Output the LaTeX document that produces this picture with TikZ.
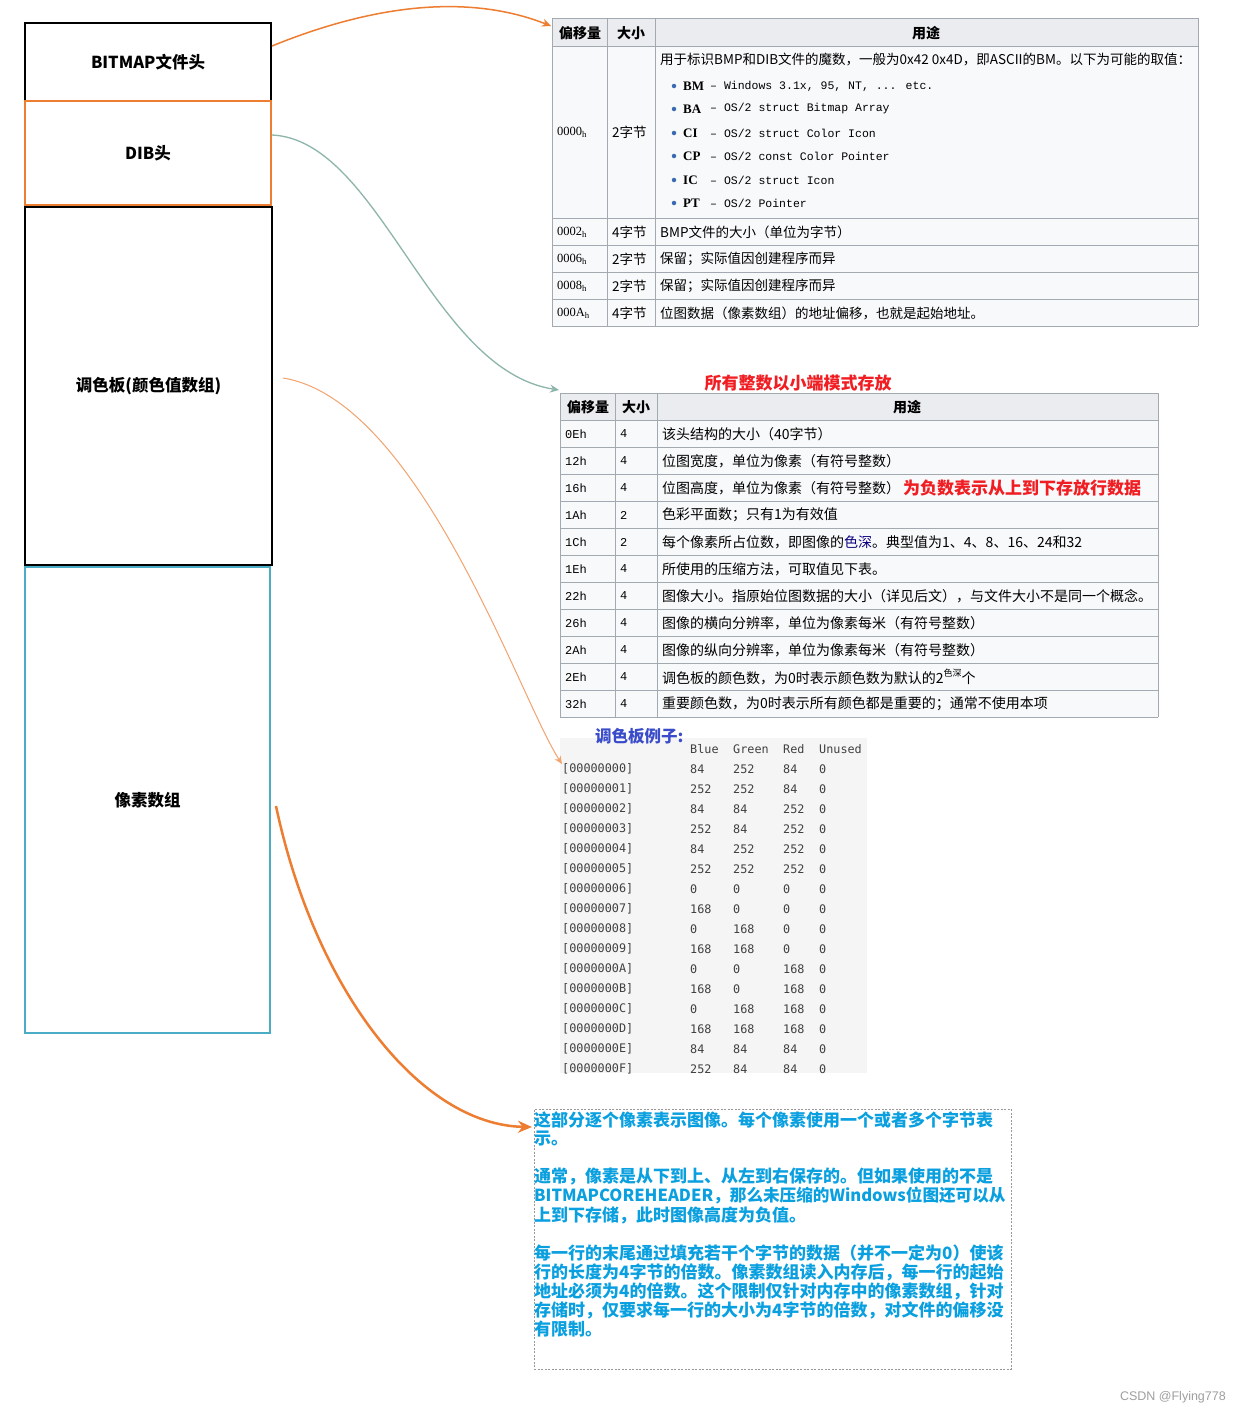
\documentclass[tikz,border=0pt]{standalone}
\usepackage{fontspec}
\setmainfont{Noto Sans CJK SC}
\newfontfamily\lmono{Liberation Mono}
\newfontfamily\lserif{Liberation Serif}
\newfontfamily\dmono{DejaVu Sans Mono}
\newfontfamily\lsans{Liberation Sans}
\usetikzlibrary{arrows.meta}
\definecolor{hdrbg}{HTML}{EAECF0}
\definecolor{cellbg}{HTML}{F8F9FA}
\definecolor{gridc}{HTML}{A2A9B1}
\definecolor{orng}{HTML}{ED7D31}
\definecolor{lorng}{HTML}{F2A36E}
\definecolor{arrteal}{HTML}{8DB5AA}
\definecolor{pixblue}{HTML}{4BACC6}
\definecolor{redtxt}{HTML}{F01E23}
\definecolor{exblue}{HTML}{3A4CC9}
\definecolor{txtblue}{HTML}{0AA0E0}
\definecolor{monogray}{HTML}{404040}
\definecolor{palbg}{HTML}{F5F5F5}
\definecolor{linkblue}{HTML}{0B0080}
\definecolor{bulblue}{HTML}{3A6BB0}
\newcommand\tabfont{\fontsize{13.5}{16}\selectfont}
\newcommand\tabfontb{\fontsize{14}{16}\selectfont}
\newcommand\hdrfont{\fontsize{14}{16}\selectfont\bfseries}
\newcommand\boxfont{\fontsize{16.5}{19}\selectfont\bfseries}
\newcommand\palfont{\dmono\fontsize{11.8}{13}\selectfont}
\newcommand\notefont{\fontsize{17}{19}\selectfont\bfseries}
\newcommand\offfont{\lserif\fontsize{12.5}{14}\selectfont}
\newcommand\omono{\lmono\fontsize{12}{14}\selectfont}
\newcommand\bulmono{\lmono\fontsize{11.5}{14}\selectfont}
\newcommand\bulkey{\lserif\bfseries\fontsize{13}{15}\selectfont}
\begin{document}
\begin{tikzpicture}[x=1pt,y=-1pt,
  lbox/.style={inner sep=0pt, font=\boxfont},
  txt/.style={anchor=west, inner sep=0pt, font=\tabfont},
  txtb/.style={anchor=west, inner sep=0pt, font=\tabfontb},
  hdr/.style={inner sep=0pt, font=\hdrfont},
  gridline/.style={draw=gridc, line width=0.8pt},
  mono/.style={anchor=west, inner sep=0pt, font=\palfont, text=monogray},
  bt/.style={anchor=west, inner sep=0pt, font=\notefont, text=txtblue},
  bul/.style={circle, inner sep=0pt, minimum size=4.5pt, fill=bulblue},
  bkey/.style={anchor=west, inner sep=0pt, font=\bulkey},
  bval/.style={anchor=west, inner sep=0pt, font=\bulmono},
  off/.style={anchor=west, inner sep=0pt, font=\offfont},
  offm/.style={anchor=west, inner sep=0pt, font=\omono},
]
\useasboundingbox (0,0) rectangle (1241,1414);
\fill[white] (0,0) rectangle (1241,1414);

% ---------- left boxes ----------
\node[lbox, draw=black, line width=1.5pt, minimum width=246pt, minimum height=78pt] (bfh) at (148,62) {BITMAP文件头};
\node[lbox, draw=orng, line width=1.5pt, minimum width=246pt, minimum height=104pt] (dib) at (148,153) {DIB头};
\node[lbox, draw=black, line width=2pt, minimum width=247pt, minimum height=358pt] (pal) at (148.5,386) {调色板(颜色值数组)};
\node[lbox, draw=pixblue, line width=1.5pt, minimum width=245pt, minimum height=466pt] (pix) at (147.5,800) {像素数组};

% ---------- table 1 ----------
\node[fill=cellbg, anchor=north west, minimum width=646pt, minimum height=308pt, inner sep=0pt] (t1) at (552,18) {};
\fill[hdrbg] (552,18) rectangle (1198,46);
\foreach \y in {18,46,218,245,272,299,326} \draw[gridline] (552,\y) -- (1198,\y);
\foreach \x in {552,607,655,1198} \draw[gridline] (\x,18) -- (\x,326);
\node[hdr] (t1h1) at (580,33) {偏移量};
\node[hdr] (t1h2) at (631,33) {大小};
\node[hdr] (t1h3) at (926,33) {用途};

\node[off] (t1o1) at (557,132) {0000\textsubscript{h}};
\node[txt] (t1s1) at (612,132) {2字节};
\node[txt] (t1d1) at (660,60) {用于标识BMP和DIB文件的魔数，一般为0x42 0x4D，即ASCII的BM。以下为可能的取值：};
\node[bul] (bu1) at (674,86) {};  \node[bkey] (bk1) at (683,86) {BM}; \node[bval] (bv1) at (710,86) {–\ Windows 3.1x, 95, NT, ... etc.};
\node[bul] (bu2) at (674,109) {}; \node[bkey] (bk2) at (683,109) {BA}; \node[bval] (bv2) at (710,109) {–\ OS/2 struct Bitmap Array};
\node[bul] (bu3) at (674,133) {}; \node[bkey] (bk3) at (683,133) {CI}; \node[bval] (bv3) at (710,133) {–\ OS/2 struct Color Icon};
\node[bul] (bu4) at (674,156) {}; \node[bkey] (bk4) at (683,156) {CP}; \node[bval] (bv4) at (710,156) {–\ OS/2 const Color Pointer};
\node[bul] (bu5) at (674,180) {}; \node[bkey] (bk5) at (683,180) {IC}; \node[bval] (bv5) at (710,180) {–\ OS/2 struct Icon};
\node[bul] (bu6) at (674,203) {}; \node[bkey] (bk6) at (683,203) {PT}; \node[bval] (bv6) at (710,203) {–\ OS/2 Pointer};

\node[off] (t1o2) at (557,232) {0002\textsubscript{h}};
\node[txt] (t1s2) at (612,232) {4字节};
\node[txt] (t1d2) at (660,232) {BMP文件的大小（单位为字节）};
\node[off] (t1o3) at (557,259) {0006\textsubscript{h}};
\node[txt] (t1s3) at (612,259) {2字节};
\node[txt] (t1d3) at (660,259) {保留；实际值因创建程序而异};
\node[off] (t1o4) at (557,286) {0008\textsubscript{h}};
\node[txt] (t1s4) at (612,286) {2字节};
\node[txt] (t1d4) at (660,286) {保留；实际值因创建程序而异};
\node[off] (t1o5) at (557,313) {000A\textsubscript{h}};
\node[txt] (t1s5) at (612,313) {4字节};
\node[txt] (t1d5) at (660,313) {位图数据（像素数组）的地址偏移，也就是起始地址。};

% ---------- table 2 ----------
\node[font=\fontsize{17}{19}\selectfont\bfseries, text=redtxt, inner sep=0pt] (t2title) at (798,383) {所有整数以小端模式存放};
\node[fill=cellbg, anchor=north west, minimum width=598pt, minimum height=324pt, inner sep=0pt] (t2) at (560,393) {};
\fill[hdrbg] (560,393) rectangle (1158,420);
\foreach \i in {0,...,12} \draw[gridline] (560,393+27*\i) -- (1158,393+27*\i);
\foreach \x in {560,615,657,1158} \draw[gridline] (\x,393) -- (\x,717);
\node[hdr] (t2h1) at (588,407) {偏移量};
\node[hdr] (t2h2) at (636,407) {大小};
\node[hdr] (t2h3) at (907,407) {用途};
\foreach \o/\s/\k in {0Eh/4/1,12h/4/2,16h/4/3,1Ah/2/4,1Ch/2/5,1Eh/4/6,22h/4/7,26h/4/8,2Ah/4/9,2Eh/4/10,32h/4/11}{
  \node[offm] (t2o\k) at (565,407+27*\k) {\o};
  \node[offm] (t2s\k) at (620,407+27*\k) {\s};
}
\node[txtb] (t2d1) at (662,434) {该头结构的大小（40字节）};
\node[txtb] (t2d2) at (662,461) {位图宽度，单位为像素（有符号整数）};
\node[txtb] (t2d3) at (662,488) {位图高度，单位为像素（有符号整数）};
\node[anchor=west, inner sep=0pt, font=\fontsize{17}{19}\selectfont\bfseries, text=redtxt] (t2red) at (903,488) {为负数表示从上到下存放行数据};
\node[txtb] (t2d4) at (662,515) {色彩平面数；只有1为有效值};
\node[txtb] (t2d5) at (662,542) {每个像素所占位数，即图像的\textcolor{linkblue}{色深}。典型值为1、4、8、16、24和32};
\node[txtb] (t2d6) at (662,569) {所使用的压缩方法，可取值见下表。};
\node[txtb] (t2d7) at (662,596) {图像大小。指原始位图数据的大小（详见后文），与文件大小不是同一个概念。};
\node[txtb] (t2d8) at (662,623) {图像的横向分辨率，单位为像素每米（有符号整数）};
\node[txtb] (t2d9) at (662,650) {图像的纵向分辨率，单位为像素每米（有符号整数）};
\node[txtb] (t2d10) at (662,677) {调色板的颜色数，为0时表示颜色数为默认的2\raisebox{0.45em}{\fontsize{9}{10}\selectfont 色深}个};
\node[txtb] (t2d11) at (662,704) {重要颜色数，为0时表示所有颜色都是重要的；通常不使用本项};

% ---------- palette example ----------
\node[fill=palbg, anchor=north west, minimum width=307pt, minimum height=335pt, inner sep=0pt] (pe) at (560,738) {};
\node[anchor=west, inner sep=0pt, font=\fontsize{16.5}{19}\selectfont\bfseries, text=exblue] (petitle) at (595,736) {调色板例子:};
\begin{scope}
\clip (560,738) rectangle (867,1073);
\node[mono] (ph1) at (690,749) {Blue};
\node[mono] (ph2) at (733,749) {Green};
\node[mono] (ph3) at (783,749) {Red};
\node[mono] (ph4) at (819,749) {Unused};
\foreach \k/\n/\b/\g/\r in {0/0/84/252/84, 1/1/252/252/84, 2/2/84/84/252, 3/3/252/84/252,
  4/4/84/252/252, 5/5/252/252/252, 6/6/0/0/0, 7/7/168/0/0, 8/8/0/168/0, 9/9/168/168/0,
  10/A/0/0/168, 11/B/168/0/168, 12/C/0/168/168, 13/D/168/168/168, 14/E/84/84/84, 15/F/252/84/84}{
  \node[mono] (pi\k) at (562,769+20*\k) {[0000000\n]};
  \node[mono] (pb\k) at (690,769+20*\k) {\b};
  \node[mono] (pg\k) at (733,769+20*\k) {\g};
  \node[mono] (pr\k) at (783,769+20*\k) {\r};
  \node[mono] (pu\k) at (819,769+20*\k) {0};
}
\end{scope}

% ---------- text box ----------
\node[draw=gray!80, dash pattern=on 2pt off 1.5pt, line width=0.8pt, anchor=north west, minimum width=477pt, minimum height=260pt, inner sep=0pt] (tb) at (534,1109) {};
\node[bt] (l1) at (534,1120) {这部分逐个像素表示图像。每个像素使用一个或者多个字节表};
\node[bt] (l2) at (534,1139) {示。};
\node[bt] (l3) at (534,1177) {通常，像素是从下到上、从左到右保存的。但如果使用的不是};
\node[bt, font=\fontsize{16.6}{19}\selectfont\bfseries] (l4) at (534,1196) {BITMAPCOREHEADER，那么未压缩的Windows位图还可以从};
\node[bt] (l5) at (534,1215) {上到下存储，此时图像高度为负值。};
\node[bt] (l6) at (534,1253) {每一行的末尾通过填充若干个字节的数据（并不一定为0）使该};
\node[bt] (l7) at (534,1272) {行的长度为4字节的倍数。像素数组读入内存后，每一行的起始};
\node[bt] (l8) at (534,1291) {地址必须为4的倍数。这个限制仅针对内存中的像素数组，针对};
\node[bt] (l9) at (534,1310) {存储时，仅要求每一行的大小为4字节的倍数，对文件的偏移没};
\node[bt] (l10) at (534,1329) {有限制。};

% ---------- watermark ----------
\node[anchor=east, inner sep=0pt, font=\lsans\fontsize{12.5}{14}\selectfont, text=gray!75] (wm) at (1226,1397) {CSDN @Flying778};

% ---------- connectors ----------
\coordinate (a1s) at (272,46);
\coordinate (a1e) at (551,26);
\coordinate (a2s) at (272,135);
\coordinate (a2e) at (559,390);
\coordinate (a3s) at (283,378);
\coordinate (a3e) at (562,764);
\coordinate (a4s) at (276,806);
\coordinate (a4e) at (532,1127);
\draw[orng, line width=1.5pt, -{Stealth[length=9pt,width=8pt]}] (a1s) .. controls (390,-2) and (480,-2) .. (a1e);
\draw[arrteal, line width=1.3pt, -{Stealth[length=9pt,width=8pt]}] (a2s) .. controls (380,140) and (430,370) .. (a2e);
\draw[lorng, line width=1pt, -{Stealth[length=8pt,width=7pt]}] (a3s) .. controls (420,400) and (520,700) .. (a3e);
\draw[orng, line width=2.5pt, -{Stealth[length=14pt,width=12pt]}] (a4s) .. controls (315,990) and (420,1125) .. (a4e);
\end{tikzpicture}
\end{document}
